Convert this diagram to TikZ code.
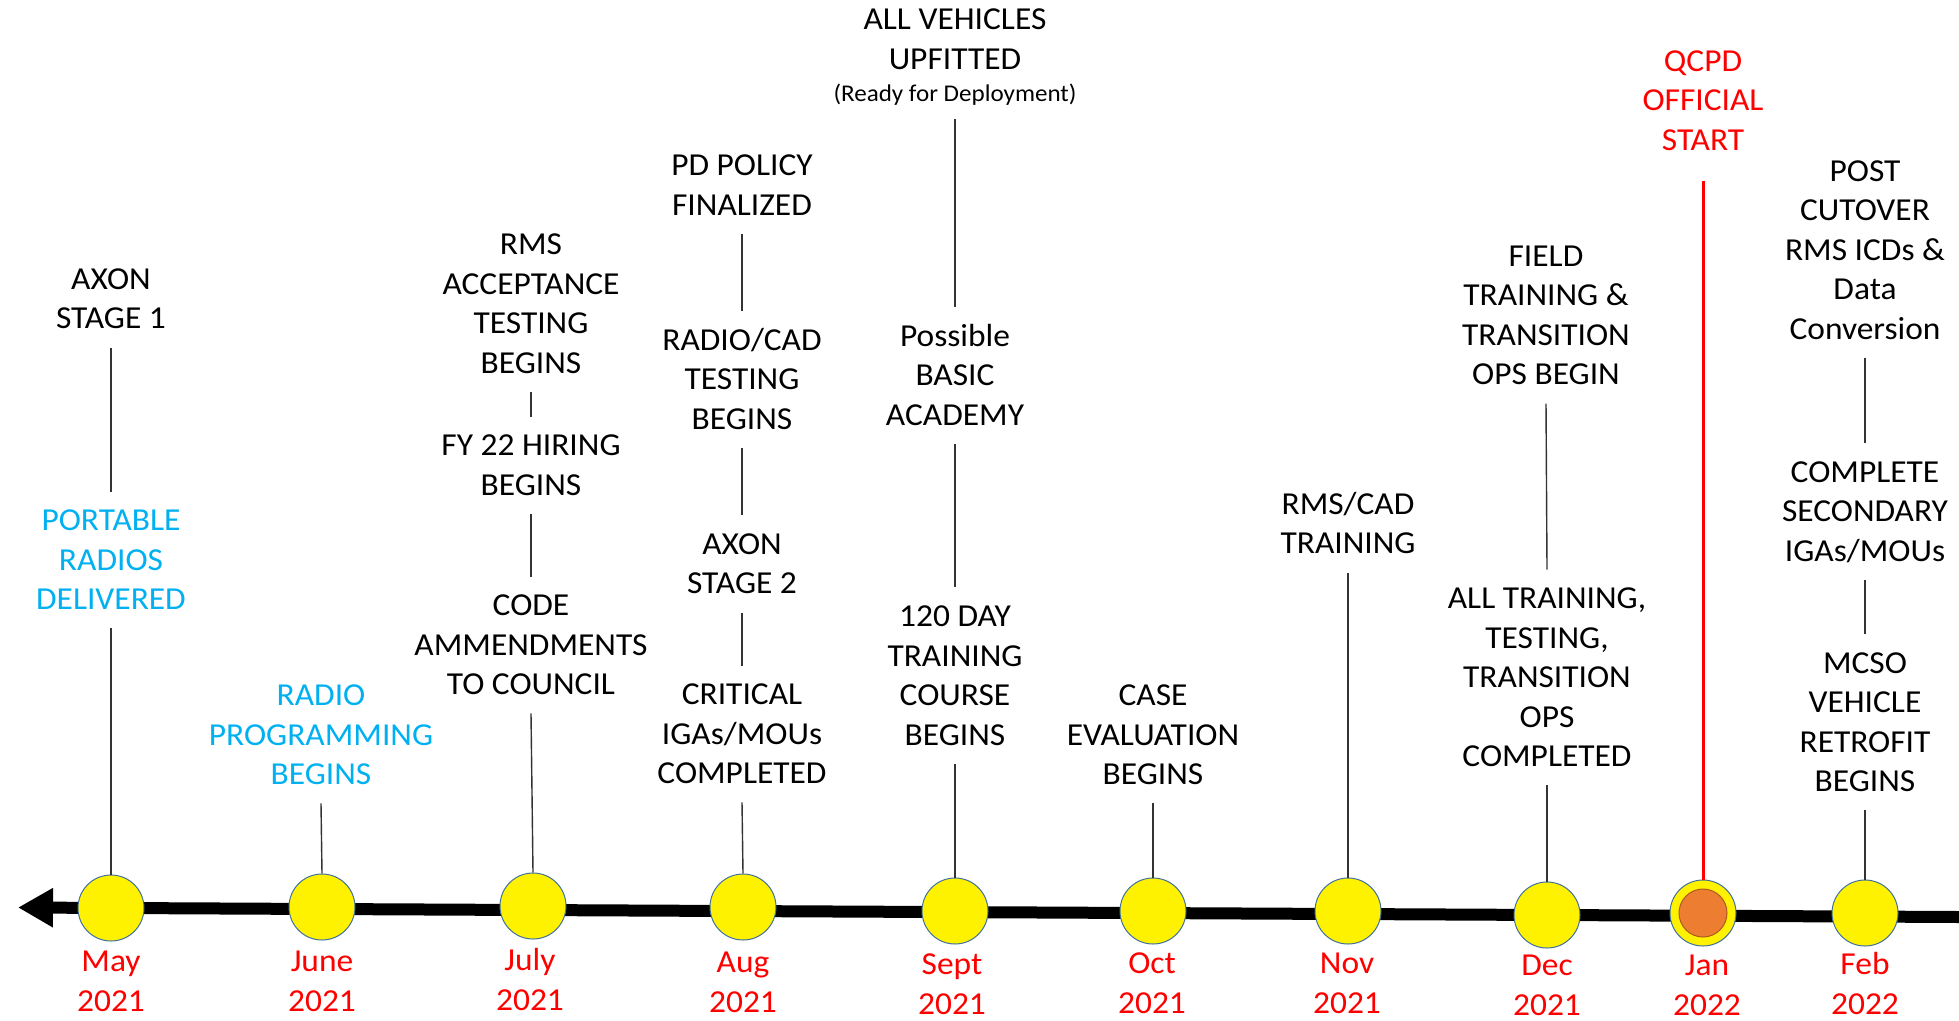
\documentclass[tikz,border=0pt]{standalone}
\usepackage{fontspec}
\setmainfont[FakeStretch=1.045]{Carlito}
\usetikzlibrary{arrows.meta}
\definecolor{skyblue}{HTML}{00B0F0}
\definecolor{alertred}{HTML}{FF0000}
\definecolor{dotedge}{HTML}{41719C}
\definecolor{startfill}{HTML}{ED7D31}
\definecolor{startedge}{HTML}{AE5A21}
% uniform line strut: every text line gets the same height and depth
\newcommand\st{\rule[-.28em]{0pt}{1.2em}}

\begin{document}
\begin{tikzpicture}[x=1pt,y=-1pt,
  lbl/.style={font=\fontsize{32}{39.5}\selectfont, align=center, inner xsep=0pt, inner ysep=9.5pt},
  note/.style={lbl, text=black},
  bluenote/.style={lbl, text=skyblue},
  month/.style={lbl, text=alertred},
  smallnote/.style={font=\fontsize{24}{29}\selectfont, align=center, inner xsep=0pt, inner ysep=10pt},
  link/.style={draw=black!80, line width=1.4pt},
  redlink/.style={draw=alertred, line width=3pt},
  dot/.style={circle, minimum size=66pt, inner sep=0pt, fill=yellow, draw=dotedge, line width=1pt},
  startdot/.style={circle, minimum size=48pt, inner sep=0pt, fill=startfill, draw=startedge, line width=1pt},
  axis/.style={line width=12pt, -{Triangle[length=35pt,width=37pt]}}
]
\useasboundingbox (0,0) rectangle (1959,1020);

% time axis
\coordinate (axL) at (18,907.5);
\coordinate (axR) at (1959,917);
\draw[axis] (axR) -- (axL);

% milestones on the axis
\node[dot] (may)  at (111,908) {};
\node[dot] (june) at (322,907) {};
\node[dot] (july) at (533,906) {};
\node[dot] (aug)  at (743,907) {};
\node[dot] (sept) at (955,911) {};
\node[dot] (oct)  at (1153,911) {};
\node[dot] (nov)  at (1348,911) {};
\node[dot] (dec)  at (1547,915) {};
\node[dot] (jan)  at (1703,913) {};
\node[startdot] (janin) at (jan) {};
\node[dot] (feb)  at (1865,913) {};

% month labels
\node[month] (mayL)  at (111,981)  {\st May\\\st 2021};
\node[month] (juneL) at (322,981)  {\st June\\\st 2021};
\node[month] (julyL) at (530,980)  {\st July\\\st 2021};
\node[month] (augL)  at (743,982)  {\st Aug\\\st 2021};
\node[month] (septL) at (952,984)  {\st Sept\\\st 2021};
\node[month] (octL)  at (1152,983) {\st Oct\\\st 2021};
\node[month] (novL)  at (1347,983) {\st Nov\\\st 2021};
\node[month] (decL)  at (1547,985) {\st Dec\\\st 2021};
\node[month] (janL)  at (1707,985) {\st Jan\\\st 2022};
\node[month] (febL)  at (1865,984) {\st Feb\\\st 2022};

% May
\node[note] (axon1) at (111,299) {\st AXON\\\st STAGE 1};
\node[bluenote] (portable) at (111,560) {\st PORTABLE\\\st RADIOS\\\st DELIVERED};
\draw[link] (axon1.south) -- (portable.north);
\draw[link] (portable.south) -- (may.north);

% June
\node[bluenote] (radioprog) at (321,735) {\st RADIO\\\st PROGRAMMING\\\st BEGINS};
\draw[link] (radioprog.south) -- (june.north);

% July
\node[note] (rms) at (531,304) {\st RMS\\\st ACCEPTANCE\\\st TESTING\\\st BEGINS};
\node[note] (hiring) at (531,465.5) {\st FY 22 HIRING\\\st BEGINS};
\node[note] (code) at (531,645) {\st CODE\\\st AMMENDMENTS\\\st TO COUNCIL};
\draw[link] (rms.south) -- (hiring.north);
\draw[link] (hiring.south) -- (code.north);
\draw[link] (code.south) -- (july.north);

% August
\node[note] (policy) at (742,185.5) {\st PD POLICY\\\st FINALIZED};
\node[note] (radiocad) at (742,379.5) {\st RADIO/CAD\\\st TESTING\\\st BEGINS};
\node[note] (axon2) at (742,564) {\st AXON\\\st STAGE 2};
\node[note] (critical) at (742,734) {\st CRITICAL\\\st IGAs/MOUs\\\st COMPLETED};
\draw[link] (policy.south) -- (radiocad.north);
\draw[link] (radiocad.south) -- (axon2.north);
\draw[link] (axon2.south) -- (critical.north);
\draw[link] (critical.south) -- (aug.north);

% September
\node[note] (vehicles) at (955,39.5) {\st ALL VEHICLES\\\st UPFITTED};
\node[smallnote] (ready) at (955,94) {\st(Ready for Deployment)};
\node[note] (academy) at (955,375.5) {\st Possible\\\st BASIC\\\st ACADEMY};
\node[note] (course) at (955,675.5) {\st 120 DAY\\\st TRAINING\\\st COURSE\\\st BEGINS};
\draw[link] (ready.south) -- (academy.north);
\draw[link] (academy.south) -- (course.north);
\draw[link] (course.south) -- (sept.north);

% October
\node[note] (caseeval) at (1153,735) {\st CASE\\\st EVALUATION\\\st BEGINS};
\draw[link] (caseeval.south) -- (oct.north);

% November
\node[note] (rmscad) at (1348,524) {\st RMS/CAD\\\st TRAINING};
\draw[link] (rmscad.south) -- (nov.north);

% December
\node[note] (field) at (1546,315.5) {\st FIELD\\\st TRAINING \&\\\st TRANSITION\\\st OPS BEGIN};
\node[note] (alltrain) at (1547,677.5) {\st ALL TRAINING,\\\st TESTING,\\\st TRANSITION\\\st OPS\\\st COMPLETED};
\draw[link] (field.south) -- (alltrain.north);
\draw[link] (alltrain.south) -- (dec.north);

% January: official start
\node[month, inner ysep=22pt] (qcpd) at (1703,100.5) {\st QCPD\\\st OFFICIAL\\\st START};
\draw[redlink] (qcpd.south) -- (jan.north);

% February
\node[note] (post) at (1865,250) {\st POST\\\st CUTOVER\\\st RMS ICDs \&\\\st Data\\\st Conversion};
\node[note] (secondary) at (1865,511.5) {\st COMPLETE\\\st SECONDARY\\\st IGAs/MOUs};
\node[note] (mcso) at (1865,722) {\st MCSO\\\st VEHICLE\\\st RETROFIT\\\st BEGINS};
\draw[link] (post.south) -- (secondary.north);
\draw[link] (secondary.south) -- (mcso.north);
\draw[link] (mcso.south) -- (feb.north);
\end{tikzpicture}
\end{document}
